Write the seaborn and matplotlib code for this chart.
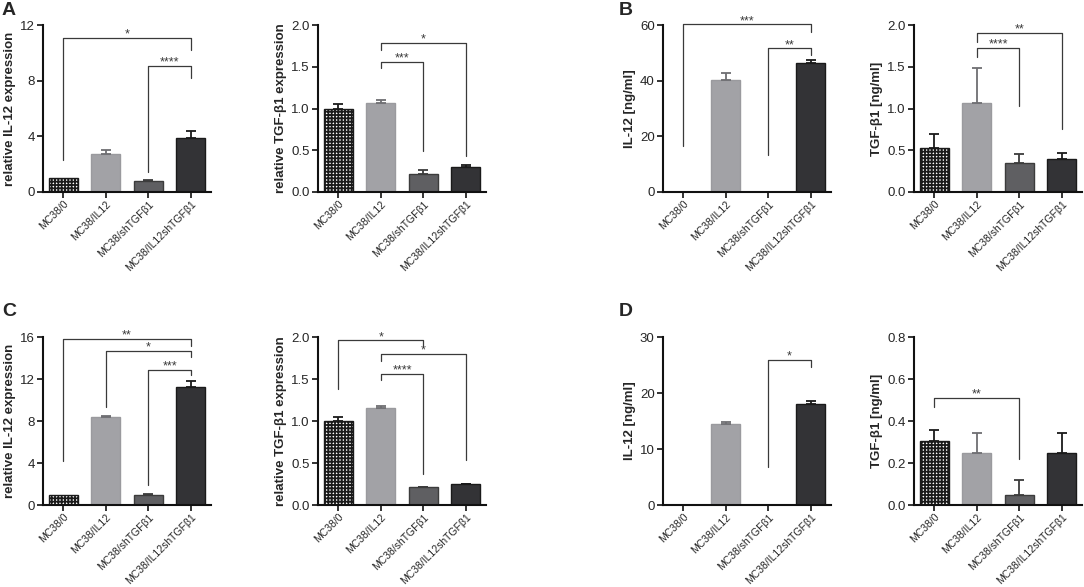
import matplotlib
matplotlib.use("Agg")
import matplotlib.pyplot as plt
import seaborn as sns
import pandas as pd

sns.set_style("ticks")
plt.rcParams['font.family'] = ['Liberation Sans', 'DejaVu Sans']
plt.rcParams['hatch.linewidth'] = 1.3

groups = ["MC38/0", "MC38/IL12", "MC38/shTGFβ1", "MC38/IL12shTGFβ1"]
bar_colors = ["#ffffff", "#a2a2a6", "#5f5f62", "#333336"]
edge_colors = ["#1a1a1a", "#9a9a9e", "#3c3c3c", "#1a1a1a"]

# A: relative expression (qPCR)
a_il12_mean = [1.0, 2.76, 0.79, 3.88]
a_il12_err = [0.0, 0.25, 0.06, 0.5]
a_tgf_mean = [1.0, 1.06, 0.21, 0.30]
a_tgf_err = [0.05, 0.04, 0.05, 0.02]

# B: ELISA
b_il12_mean = [0.0, 40.3, 0.0, 46.4]
b_il12_err = [0.0, 2.4, 0.0, 1.2]
b_tgf_mean = [0.53, 1.07, 0.35, 0.40]
b_tgf_err = [0.16, 0.41, 0.10, 0.07]

# C: relative expression (qPCR)
c_il12_mean = [1.0, 8.35, 1.0, 11.25]
c_il12_err = [0.0, 0.15, 0.02, 0.55]
c_tgf_mean = [1.0, 1.16, 0.21, 0.25]
c_tgf_err = [0.05, 0.02, 0.005, 0.005]

# D: ELISA
d_il12_mean = [0.0, 14.4, 0.0, 18.1]
d_il12_err = [0.0, 0.4, 0.0, 0.4]
d_tgf_mean = [0.305, 0.25, 0.049, 0.25]
d_tgf_err = [0.052, 0.092, 0.07, 0.092]

# brackets: (left bar, right bar, line y, left leg end, right leg end, label)
a_il12_br = [(0, 3, 11.08, 2.33, 10.2, "*"), (2, 3, 9.06, 1.44, 8.2, "****")]
a_tgf_br = [(1, 2, 1.56, 1.48, 0.49, "***"), (1, 3, 1.79, 1.70, 0.43, "*")]
b_il12_br = [(0, 3, 60.2, 16.4, 57.6, "***"), (2, 3, 51.6, 13.4, 49.2, "**")]
b_tgf_br = [(1, 2, 1.73, 1.62, 1.03, "****"), (1, 3, 1.91, 1.80, 0.75, "**")]
c_il12_br = [(0, 3, 15.8, 4.15, 15.1, "**"), (1, 3, 14.7, 9.3, 14.1, "*"),
             (2, 3, 12.9, 1.9, 12.4, "***")]
c_tgf_br = [(0, 2, 1.96, 1.38, 1.89, "*"), (1, 3, 1.80, 1.72, 0.53, "*"),
            (1, 2, 1.56, 1.49, 0.37, "****")]
d_il12_br = [(2, 3, 25.9, 6.8, 24.6, "*")]
d_tgf_br = [(0, 2, 0.51, 0.467, 0.218, "**")]

W, H = 1084, 587
fig = plt.figure(figsize=(W / 100, H / 100), dpi=100)


def panel(left, top, bottom, means, errs, ylabel, ymax, ticks, fmt, brackets):
    width = 168
    ax = fig.add_axes([left / W, 1 - bottom / H, width / W, (bottom - top) / H])
    df = pd.DataFrame({"group": groups, "value": means})
    sns.barplot(data=df, x="group", y="value", hue="group", palette=bar_colors,
                width=0.68, errorbar=None, legend=False, ax=ax, saturation=1)
    for i, p in enumerate(ax.patches):
        p.set_edgecolor(edge_colors[i])
        p.set_linewidth(1.0)
        if i == 0:
            p.set_hatch("+++++")
    for i in range(len(groups)):
        if errs[i] > 0:
            ax.errorbar(i, means[i], yerr=[[0], [errs[i]]], fmt="none",
                        ecolor=edge_colors[i] if i != 1 else "#6e6e72",
                        elinewidth=1.3, capsize=3.8, capthick=1.3)
    for x1, x2, y, yl, yr, lab in brackets:
        ax.plot([x1, x1, x2, x2], [yl, y, y, yr], color="#3a3a3a", lw=0.9,
                clip_on=False)
        ax.annotate(lab, ((x1 + x2) / 2, y), xytext=(0, -2),
                    textcoords="offset points", ha="center", va="bottom",
                    fontsize=9, color="#3a3a3a", annotation_clip=False)
    ax.set_xlim(-0.47, 3.47)
    ax.set_ylim(0, ymax)
    ax.set_yticks(ticks)
    ax.set_yticklabels([fmt.format(t) for t in ticks], fontsize=9.5)
    ax.set_xticks(range(len(groups)))
    ax.set_xticklabels(groups, rotation=45, ha="right", rotation_mode="anchor",
                       fontsize=7.5)
    ax.set_xlabel("")
    ax.set_ylabel(ylabel, fontsize=9.5, fontweight="bold", labelpad=3)
    sns.despine(ax=ax)
    for s in ("left", "bottom"):
        ax.spines[s].set_linewidth(1.5)
        ax.spines[s].set_color("#111111")
    ax.tick_params(axis="both", length=4, width=1.2, color="#111111", pad=2)
    ax.tick_params(axis="x", pad=1)
    return ax


panel(43, 25, 192, a_il12_mean, a_il12_err, "relative IL-12 expression",
      12, [0, 4, 8, 12], "{:.0f}", a_il12_br)
panel(318, 25, 192, a_tgf_mean, a_tgf_err, "relative TGF-β1 expression",
      2.0, [0, 0.5, 1.0, 1.5, 2.0], "{:.1f}", a_tgf_br)
panel(663, 25, 192, b_il12_mean, b_il12_err, "IL-12 [ng/ml]",
      60, [0, 20, 40, 60], "{:.0f}", b_il12_br)
panel(914, 25, 192, b_tgf_mean, b_tgf_err, "TGF-β1 [ng/ml]",
      2.0, [0, 0.5, 1.0, 1.5, 2.0], "{:.1f}", b_tgf_br)
panel(43, 337, 505, c_il12_mean, c_il12_err, "relative IL-12 expression",
      16, [0, 4, 8, 12, 16], "{:.0f}", c_il12_br)
panel(318, 337, 505, c_tgf_mean, c_tgf_err, "relative TGF-β1 expression",
      2.0, [0, 0.5, 1.0, 1.5, 2.0], "{:.1f}", c_tgf_br)
panel(663, 337, 505, d_il12_mean, d_il12_err, "IL-12 [ng/ml]",
      30, [0, 10, 20, 30], "{:.0f}", d_il12_br)
panel(914, 337, 505, d_tgf_mean, d_tgf_err, "TGF-β1 [ng/ml]",
      0.8, [0, 0.2, 0.4, 0.6, 0.8], "{:.1f}", d_tgf_br)

for lab, x, y in [("A", 2, 2), ("B", 619, 2), ("C", 2, 303), ("D", 619, 303)]:
    fig.text(x / W, 1 - y / H, lab, fontsize=14, fontweight="bold",
             ha="left", va="top")

fig.savefig("out.png", dpi=100)
